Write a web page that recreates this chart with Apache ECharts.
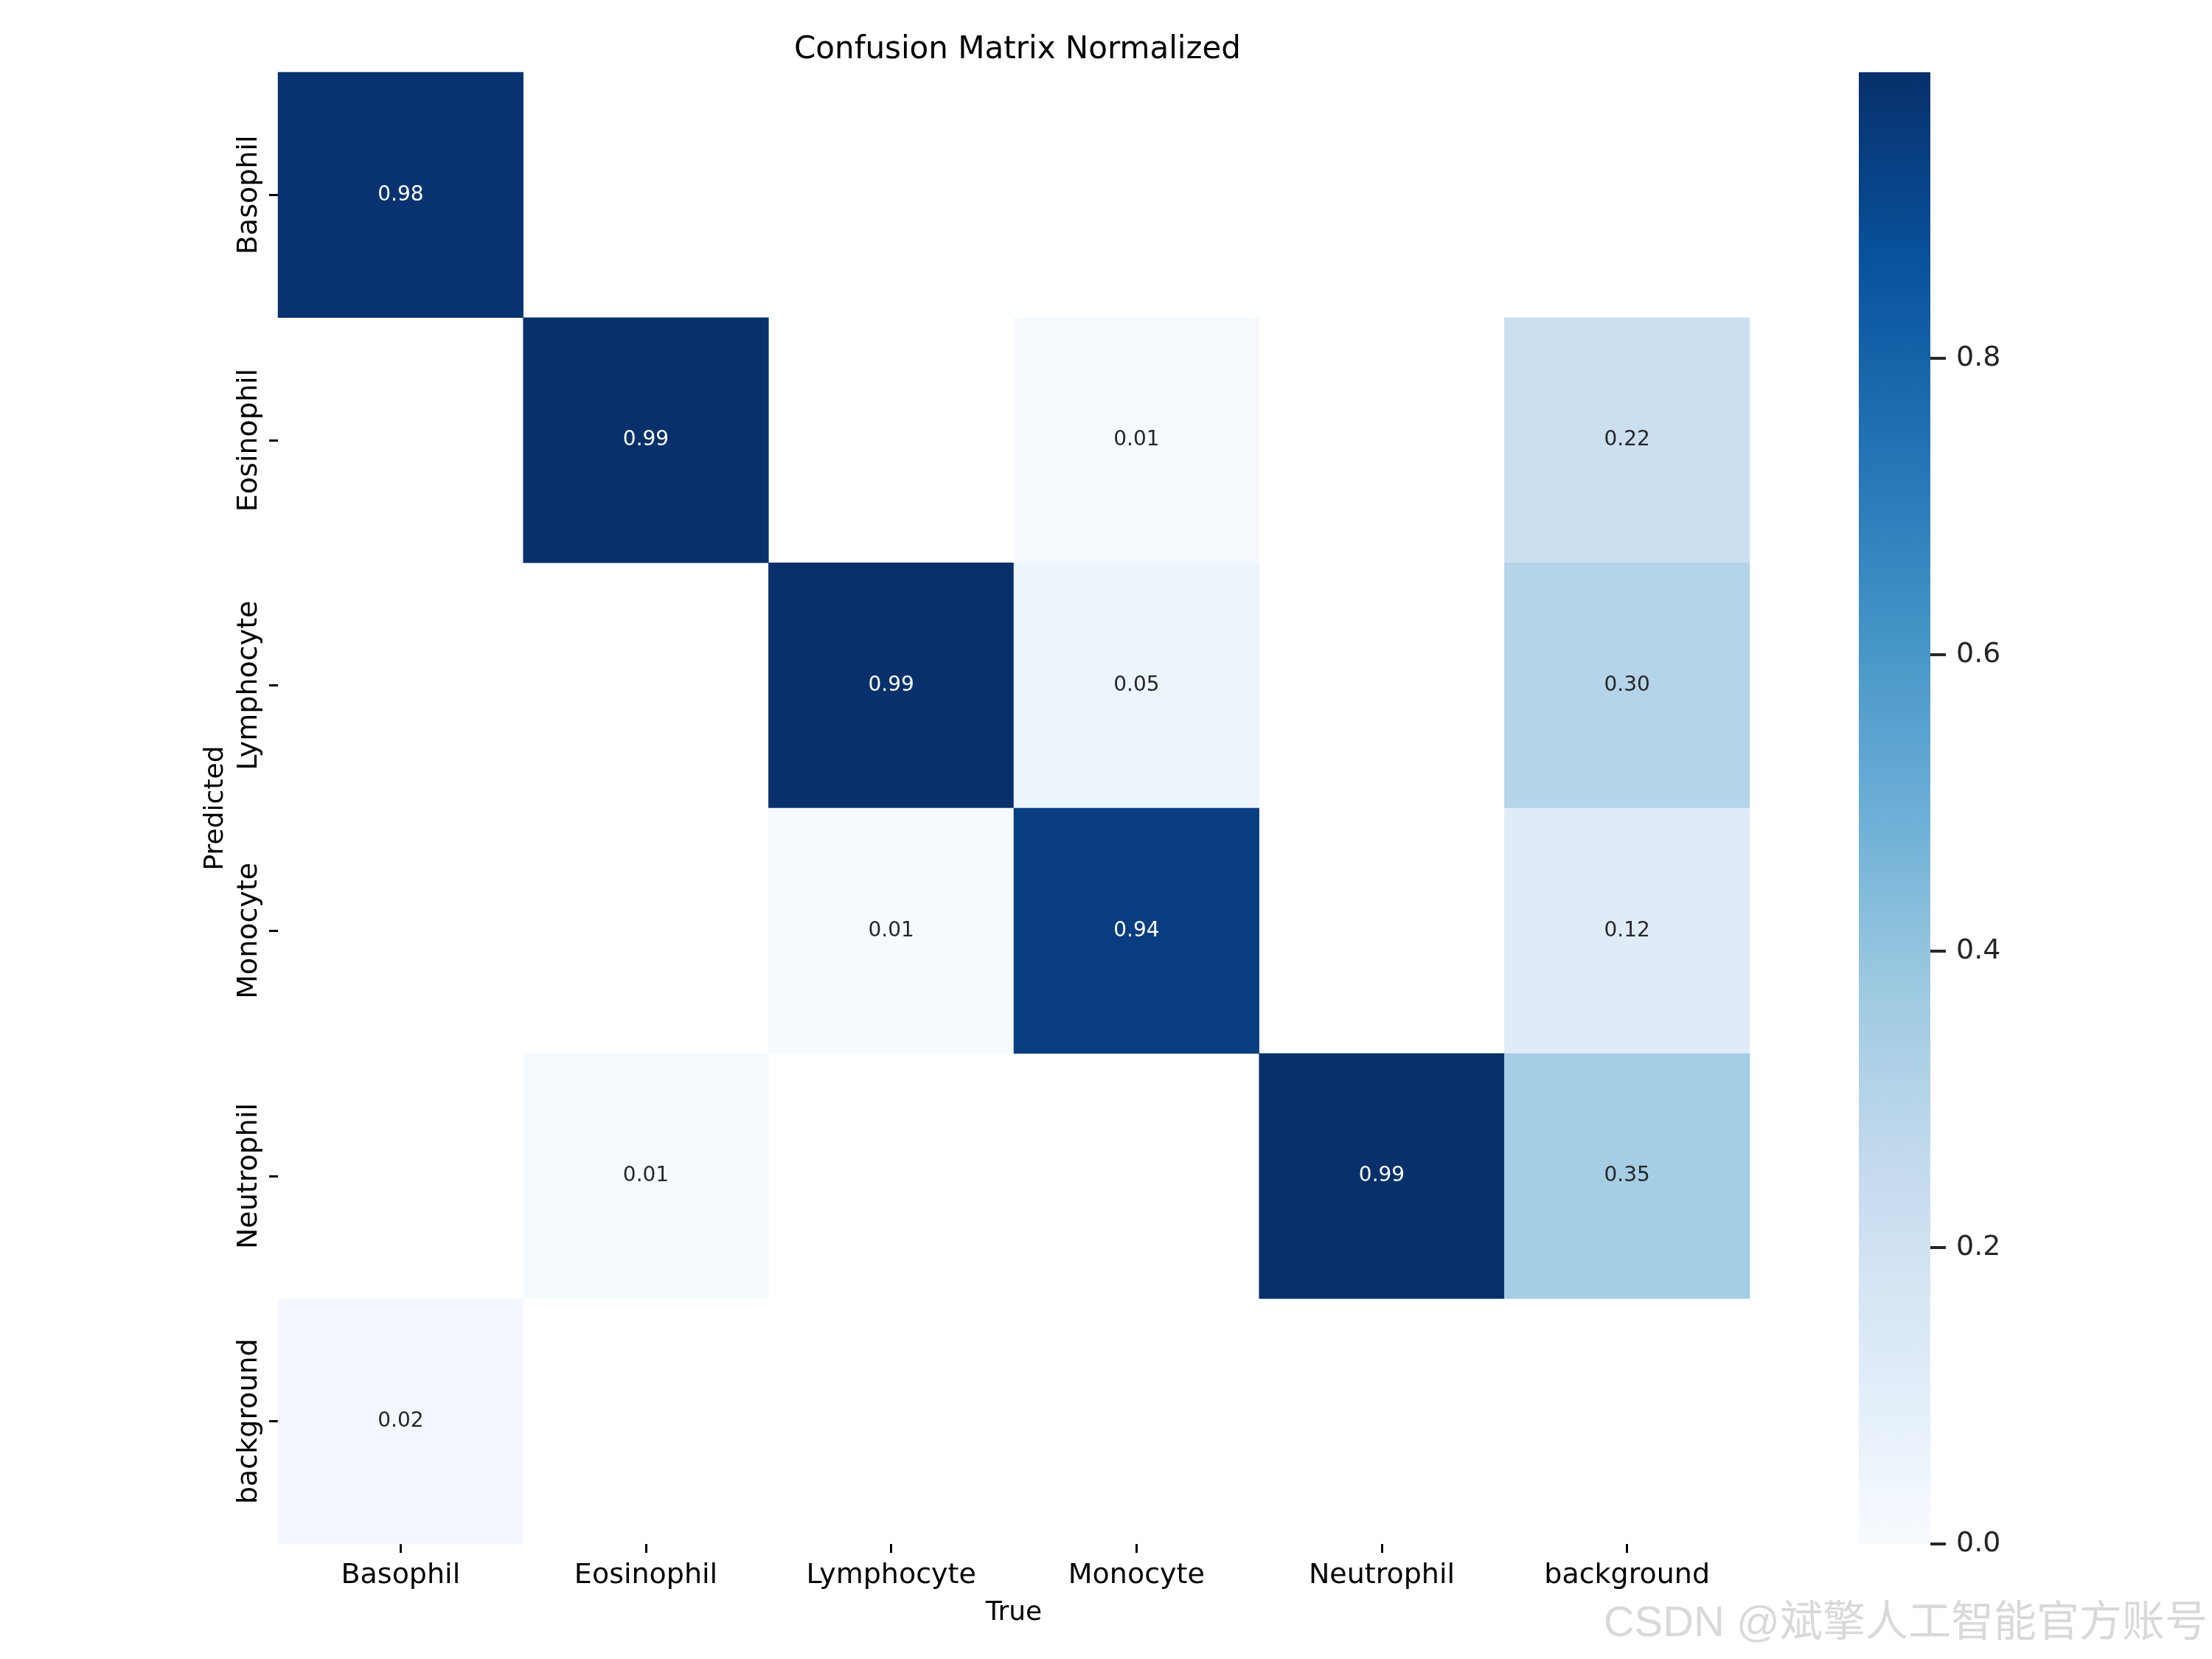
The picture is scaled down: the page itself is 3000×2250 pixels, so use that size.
<!DOCTYPE html>
<html>
<head>
<meta charset="utf-8">
<title>Confusion Matrix Normalized</title>
<script src="https://cdn.jsdelivr.net/npm/echarts@6/dist/echarts.min.js"></script>
<style>
  html, body { margin: 0; padding: 0; background: #fff; }
  #chart { width: 3000px; height: 2250px; }
</style>
</head>
<body>
<div id="chart"></div>
<script>
// class names, columns = true class, rows = predicted class
const classNames = ['Basophil', 'Eosinophil', 'Lymphocyte', 'Monocyte', 'Neutrophil', 'background'];

// normalized confusion matrix, one array per predicted row
const rowBasophil   = [0.98, 0,    0,    0,    0,    0   ];
const rowEosinophil = [0,    0.99, 0,    0.01, 0,    0.22];
const rowLymphocyte = [0,    0,    0.99, 0.05, 0,    0.30];
const rowMonocyte   = [0,    0,    0.01, 0.94, 0,    0.12];
const rowNeutrophil = [0,    0.01, 0,    0,    0.99, 0.35];
const rowBackground = [0.02, 0,    0,    0,    0,    0   ];
const matrixRows = [rowBasophil, rowEosinophil, rowLymphocyte, rowMonocyte, rowNeutrophil, rowBackground];

// colorbar range and ticks
const colorMin = 0;
const colorMax = 0.993;
const colorTicks = [0, 0.2, 0.4, 0.6, 0.8];

// matplotlib "Blues"
const blues = ['#f7fbff', '#deebf7', '#c6dbef', '#9ecae1', '#6baed6', '#4292c6', '#2171b5', '#08519c', '#08306b'];

const FONT = 'DejaVu Sans';
const TEXT = '#262626';

// zero cells are left blank, like the seaborn plot
const cells = [];
matrixRows.forEach(function (row, r) {
  row.forEach(function (v, c) {
    if (v > 0) {
      cells.push({
        value: [c, r, v],
        label: { color: v > 0.5 ? '#ffffff' : TEXT }
      });
    }
  });
});

const chart = echarts.init(document.getElementById('chart'), null, { renderer: 'canvas' });

const option = {
  backgroundColor: '#ffffff',
  animation: false,
  title: {
    text: 'Confusion Matrix Normalized',
    left: 1375,
    top: 42,
    textAlign: 'center',
    textStyle: { fontFamily: FONT, fontSize: 42, fontWeight: 'normal', color: '#000' }
  },
  grid: [
    { left: 377, top: 98, width: 1996, height: 1996 },
    { left: 2521, top: 98, width: 97, height: 1996 }
  ],
  xAxis: [
    {
      type: 'category',
      gridIndex: 0,
      data: classNames,
      name: 'True',
      nameLocation: 'middle',
      nameGap: 76,
      nameTextStyle: { fontFamily: FONT, fontSize: 36, color: '#000' },
      axisLine: { show: false },
      axisTick: { show: true, alignWithLabel: true, length: 12, lineStyle: { color: '#000', width: 3 } },
      axisLabel: { fontFamily: FONT, fontSize: 38, color: '#000', margin: 24 },
      splitLine: { show: false }
    },
    {
      type: 'value',
      gridIndex: 1,
      min: 0,
      max: 1,
      show: false
    }
  ],
  yAxis: [
    {
      type: 'category',
      gridIndex: 0,
      data: classNames,
      inverse: true,
      name: 'Predicted',
      nameLocation: 'middle',
      nameGap: 66,
      nameTextStyle: { fontFamily: FONT, fontSize: 36, color: '#000' },
      axisLine: { show: false },
      axisTick: { show: true, alignWithLabel: true, length: 12, lineStyle: { color: '#000', width: 3 } },
      axisLabel: { fontFamily: FONT, fontSize: 38, color: '#000', rotate: 90, margin: 20 },
      splitLine: { show: false }
    },
    {
      type: 'value',
      gridIndex: 1,
      position: 'right',
      min: colorMin,
      max: colorMax,
      axisLine: { show: false },
      // ticks are drawn by the colorbar series below
      axisTick: { show: false },
      axisLabel: {
        fontFamily: FONT,
        fontSize: 38,
        color: TEXT,
        margin: 35,
        padding: [14, 0, 0, 0],
        customValues: colorTicks,
        formatter: function (v) { return v.toFixed(1); }
      },
      splitLine: { show: false }
    }
  ],
  visualMap: {
    show: false,
    type: 'continuous',
    seriesIndex: 0,
    min: colorMin,
    max: colorMax,
    inRange: { color: blues }
  },
  series: [
    {
      type: 'heatmap',
      xAxisIndex: 0,
      yAxisIndex: 0,
      data: cells,
      label: {
        show: true,
        fontFamily: FONT,
        fontSize: 28,
        formatter: function (p) { return p.value[2].toFixed(2); }
      },
      itemStyle: { borderWidth: 0 },
      emphasis: { disabled: true }
    },
    {
      // colorbar: gradient bar plus outward ticks, placed with its own axes
      type: 'custom',
      xAxisIndex: 1,
      yAxisIndex: 1,
      data: [[colorMin, colorMax]],
      silent: true,
      renderItem: function (params, api) {
        const lo = api.coord([0, api.value(0)]);
        const hi = api.coord([1, api.value(1)]);
        const children = [{
          type: 'rect',
          shape: { x: lo[0], y: hi[1], width: hi[0] - lo[0], height: lo[1] - hi[1] },
          style: {
            fill: new echarts.graphic.LinearGradient(0, 1, 0, 0,
              blues.map(function (c, i) { return { offset: i / (blues.length - 1), color: c }; }))
          }
        }];
        colorTicks.forEach(function (t) {
          const p = api.coord([1, t]);
          children.push({
            type: 'line',
            shape: { x1: p[0], y1: p[1], x2: p[0] + 21, y2: p[1] },
            style: { stroke: TEXT, lineWidth: 4 }
          });
        });
        return { type: 'group', children: children };
      }
    }
  ],
  graphic: [
    {
      type: 'text',
      right: 6,
      top: 2174,
      style: {
        text: 'CSDN @斌擎人工智能官方账号',
        font: '58px "Liberation Sans", "Noto Sans CJK SC", sans-serif',
        fill: '#d9d9d9',
        shadowColor: 'rgba(0,0,0,0.25)',
        shadowBlur: 2,
        shadowOffsetX: 1,
        shadowOffsetY: 1
      }
    }
  ]
};

chart.setOption(option);
</script>
</body>
</html>
